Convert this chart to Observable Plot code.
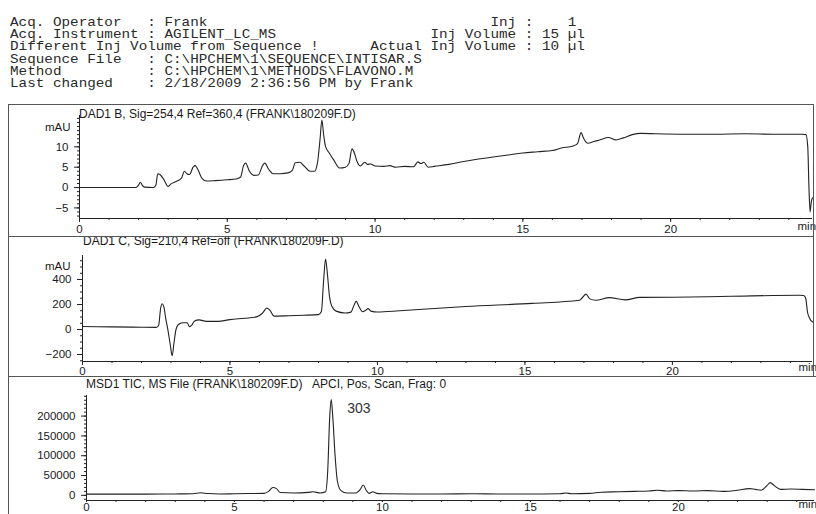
<!DOCTYPE html>
<html><head><meta charset="utf-8">
<script src="https://cdn.jsdelivr.net/npm/d3@7"></script>
<script src="https://cdn.jsdelivr.net/npm/@observablehq/plot@0.6"></script>
<style>
html,body{margin:0;padding:0;background:#fff;}
#page{position:relative;width:816px;height:514px;overflow:hidden;background:#fff;}
#hdr{position:absolute;left:10px;top:17px;margin:0;font-family:"Liberation Mono",monospace;font-size:14.3px;line-height:13.9px;color:#2a2a2a;white-space:pre;transform:scale(1,0.88);transform-origin:0 0;}
.title{position:absolute;font-family:"Liberation Sans",Arial,sans-serif;font-size:12px;line-height:14px;color:#1a1a1a;white-space:pre;}
.panel{position:absolute;left:0;}
.hline{position:absolute;height:0;border-top:1px solid #555;}
.vline{position:absolute;width:0;border-left:1px solid #555;}
</style></head>
<body>
<div id="page">
  <pre id="hdr"></pre>
  <div class="panel" id="p1" style="top:104px"></div>
  <div class="panel" id="p2" style="top:236px"></div>
  <div class="panel" id="p3" style="top:376px"></div>
  <div class="title" style="left:79px;top:107px">DAD1 B, Sig=254,4 Ref=360,4 (FRANK\180209F.D)</div>
  <div class="title" style="left:83px;top:234px">DAD1 C, Sig=210,4 Ref=off (FRANK\180209F.D)</div>
  <div class="title" style="left:86px;top:377px">MSD1 TIC, MS File (FRANK\180209F.D)</div>
  <div class="title" style="left:312px;top:377px">APCI, Pos, Scan, Frag: 0</div>
  <div class="hline" style="left:8px;width:805px;top:104px"></div>
  <div class="hline" style="left:8px;width:805px;top:236px"></div>
  <div class="hline" style="left:8px;width:808px;top:376px"></div>
  <div class="vline" style="left:8px;top:104px;height:410px"></div>
  <div class="vline" style="left:813px;top:104px;height:272px"></div>
</div>
<script>
// ---------- header text ----------
const headerLeft = [
  "Acq. Operator   : Frank",
  "Acq. Instrument : AGILENT_LC_MS",
  "Different Inj Volume from Sequence !",
  "Sequence File   : C:\\HPCHEM\\1\\SEQUENCE\\INTISAR.S",
  "Method          : C:\\HPCHEM\\1\\METHODS\\FLAVONO.M",
  "Last changed    : 2/18/2009 2:36:56 PM by Frank"
];
const headerRight = ["Inj :    1", "Inj Volume : 15 µl", "Actual Inj Volume : 10 µl", "", "", ""];
const headerRightCol = [56, 49, 42, 0, 0, 0];

// ---------- axis ticks ----------
const xMajor = [0, 5, 10, 15, 20];
const xMinor = [0,1,2,3,4,5,6,7,8,9,10,11,12,13,14,15,16,17,18,19,20,21,22,23,24];
const y1Ticks = [-5, 0, 5, 10];
const y1Minor = [-7,-6,-5,-4,-3,-2,-1,0,1,2,3,4,5,6,7,8,9,10,11,12,13,14,15,16,17];
const y2Ticks = [-200, 0, 200, 400];
const y2Minor = [-250,-200,-150,-100,-50,0,50,100,150,200,250,300,350,400,450,500,550];
const y3Ticks = [0, 50000, 100000, 150000, 200000];
const y3Minor = [-10000,0,10000,20000,30000,40000,50000,60000,70000,80000,90000,100000,110000,120000,130000,140000,150000,160000,170000,180000,190000,200000,210000,220000,230000,240000,250000];
const x1Domain = [0, 24.8], y1Domain = [-7.6, 17.7];
const x2Domain = [0, 24.75], y2Domain = [-256, 592];
const x3Domain = [0, 24.6], y3Domain = [-13000, 252000];

// ---------- DAD1 B (254 nm), mAU ----------
const t1 = [0,0.5,1,1.5,1.9,2.0,2.06,2.12,2.2,2.5,2.58,2.65,2.72,2.85,3.0,3.1,3.3,3.45,3.55,3.65,3.72,3.85,3.92,4.0,4.15,4.3,4.6,5.0,5.3,5.45,5.55,5.62,5.75,5.9,6.05,6.2,6.27,6.4,6.55,6.8,7.05,7.2,7.3,7.45,7.6,7.8,7.95,8.05,8.14,8.2,8.26,8.32,8.45,8.6,8.8,9.0,9.12,9.22,9.3,9.4,9.5,9.65,9.75,9.85,10.0,10.3,10.5,10.7,11.0,11.3,11.45,11.55,11.65,11.8,12.0,12.5,13.0,13.5,14.0,14.5,15.0,15.5,16.0,16.3,16.7,16.85,16.97,17.05,17.2,17.4,17.6,17.9,18.15,18.4,18.7,19.0,19.5,20.5,21.5,22.5,23.5,24.45,24.58,24.64,24.68,24.72,24.76,24.8];
const v1 = [0,0,0,0,0,0.6,1.3,0.6,0.1,0,0.5,3.4,3.2,2.0,0.3,0.9,1.6,2.3,4.0,3.3,3.2,5.1,5.4,4.5,2.2,1.6,1.7,1.9,2.1,2.6,5.4,6.0,4.0,3.0,3.1,5.5,6.0,4.5,3.4,3.4,3.6,4.2,6.1,6.2,5.3,4.0,4.0,6.0,12.0,16.6,13.0,10.2,8.5,6.8,4.8,5.0,6.0,9.5,8.5,6.2,5.3,6.2,5.7,5.8,5.3,5.2,5.4,5.0,5.2,5.1,6.3,5.9,6.2,5.0,5.2,5.7,6.4,7.0,7.5,8.0,8.5,8.8,9.1,9.7,10.2,10.8,13.5,12.2,10.9,11.3,11.7,12.3,11.7,12.2,13.0,13.3,13.2,13.1,13.1,13.2,13.1,13.1,13.0,10,0,-6.0,-3.5,-2.5];

// ---------- DAD1 C (210 nm), mAU ----------
const t2 = [0,1,2,2.5,2.58,2.65,2.7,2.76,2.82,2.9,2.98,3.04,3.1,3.17,3.25,3.4,3.55,3.62,3.7,3.8,3.95,4.2,4.6,5.0,5.5,5.9,6.1,6.25,6.35,6.5,7.0,7.5,8.0,8.1,8.17,8.24,8.3,8.37,8.45,8.6,8.9,9.1,9.2,9.28,9.38,9.5,9.6,9.68,9.78,10.0,10.75,13.0,15.25,16.85,16.95,17.07,17.2,17.4,17.86,18.4,18.9,20,22,24.3,24.45,24.52,24.58,24.65,24.75];
const v2 = [24,21,18,17,32,172,206,181,91,-9,-130,-210,-110,0,40,54,54,23,33,68,77,65,65,79,90,101,130,172,155,107,110,114,119,144,374,564,453,273,188,147,132,139,191,225,180,142,154,167,147,140,150,184,209,234,256,283,245,234,255,237,257,258,266,274,272,250,140,90,60];

// ---------- MSD1 TIC ----------
const t3 = [0,1,2,3,3.6,3.85,4.1,4.5,5,5.5,6.0,6.15,6.3,6.42,6.55,7.0,7.5,7.65,7.9,8.08,8.15,8.22,8.27,8.32,8.4,8.48,8.6,8.8,9.1,9.25,9.35,9.45,9.55,9.68,9.8,10,11,12,13,14,15,16,16.2,16.4,17,17.4,18,18.5,19,19.3,19.6,20,20.5,21,21.5,22,22.4,22.6,22.8,23.0,23.1,23.25,23.45,23.8,24.2,24.6];
const v3 = [3000,3000,3000,3500,4000,6500,4500,3500,4000,4500,5000,10000,20000,17000,7000,6000,7500,9000,6000,9000,60000,200000,242000,200000,100000,35000,12000,6000,6000,15000,26000,13000,5000,9000,5000,4000,3500,3500,4000,3500,3500,4000,6000,4000,5000,8000,9000,10000,11000,13000,11000,12000,11000,12000,10000,13000,17000,15000,13000,25000,32000,24000,15000,16000,15000,14000];
const peakLabels = [{t: 8.27, v: 242000, label: "303"}];

document.getElementById("hdr").textContent = headerLeft.map((s, i) =>
  headerRight[i] ? s.padEnd(headerRightCol[i]) + headerRight[i] : s).join("\n");

const ink = "#222";
const baseStyle = {fontFamily: "'Liberation Sans', Arial, sans-serif", fontSize: "11.5px", color: "#1a1a1a", background: "transparent", overflow: "visible"};

function panel({t, v, xDomain, yDomain, yTicks, yMinor, height, mL, mR, mT, mB, yFormat, mauDx, mauDy, minDx, minDy, xTickSize, xTickPad, extra}) {
  const data = t.map((d, i) => ({t: d, v: v[i]}));
  return Plot.plot({
    width: 816, height, marginLeft: mL, marginRight: mR, marginTop: mT, marginBottom: mB,
    style: baseStyle,
    x: {domain: xDomain},
    y: {domain: yDomain},
    marks: [
      Plot.axisX({ticks: xMinor, tickSize: 2, tickFormat: () => "", label: null, stroke: ink}),
      Plot.axisX({ticks: xMajor, tickSize: xTickSize, tickPadding: xTickPad, label: null, stroke: ink}),
      Plot.axisY({ticks: yMinor, tickSize: 2, tickFormat: () => "", label: null, stroke: ink}),
      Plot.axisY({ticks: yTicks, tickSize: 5, tickPadding: 6, label: null, stroke: ink, tickFormat: yFormat}),
      Plot.ruleX([xDomain[0]], {stroke: ink, strokeWidth: 1}),
      Plot.ruleY([yDomain[0]], {stroke: ink, strokeWidth: 1}),
      mauDx !== null ? Plot.text(["mAU"], {frameAnchor: "top-left", textAnchor: "end", dx: mauDx, dy: mauDy, fill: "#1a1a1a", fontSize: 11.5}) : null,
      Plot.text(["min"], {frameAnchor: "bottom-right", textAnchor: "start", dx: minDx, dy: minDy, fill: "#1a1a1a", fontSize: 11.5}),
      Plot.line(data, {x: "t", y: "v", stroke: ink, strokeWidth: 1.1, curve: "monotone-x"}),
      ...(extra || [])
    ]
  });
}

document.getElementById("p1").append(panel({
  t: t1, v: v1, xDomain: x1Domain, yDomain: y1Domain, yTicks: y1Ticks, yMinor: y1Minor,
  height: 134, mL: 79, mR: 4, mT: 11, mB: 20, yFormat: d3.format("d"), mauDx: -9, mauDy: 7, minDx: -15, minDy: 11,
  xTickSize: 4, xTickPad: 2
}));
document.getElementById("p2").append(panel({
  t: t2, v: v2, xDomain: x2Domain, yDomain: y2Domain, yTicks: y2Ticks, yMinor: y2Minor,
  height: 140, mL: 82, mR: 4, mT: 19, mB: 15, yFormat: d3.format("d"), mauDx: -12, mauDy: 6, minDx: -14, minDy: 9,
  xTickSize: 4, xTickPad: 1
}));
document.getElementById("p3").append(panel({
  t: t3, v: v3, xDomain: x3Domain, yDomain: y3Domain, yTicks: y3Ticks, yMinor: y3Minor,
  height: 138, mL: 86, mR: 2, mT: 19, mB: 14, yFormat: d3.format("d"), mauDx: null, mauDy: 0, minDx: -16, minDy: 7,
  xTickSize: 2, xTickPad: 0,
  extra: [Plot.text(peakLabels, {x: "t", y: "v", text: "label", textAnchor: "start", dx: 16, dy: 9, fontSize: 14, fill: "#333"})]
}));
</script>
</body></html>
